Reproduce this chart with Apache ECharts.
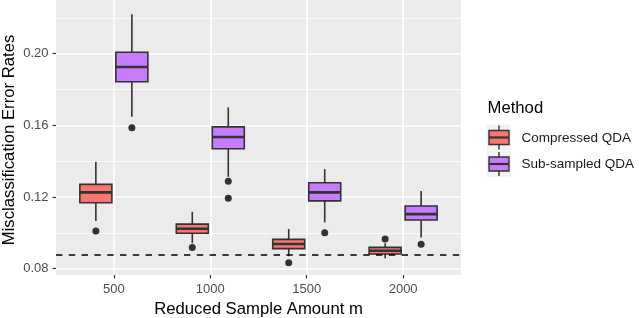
<!DOCTYPE html>
<html><head><meta charset="utf-8">
<script src="https://cdn.jsdelivr.net/npm/echarts@6/dist/echarts.min.js"></script>
<style>html,body{margin:0;padding:0;background:#fff}#c{width:640px;height:318px}</style>
</head><body><div id="c"></div>
<script>
// ---- data ----
const sampleSizes = [500, 1000, 1500, 2000];
const methods = ['Compressed QDA', 'Sub-sampled QDA'];
// [lower whisker, Q1, median, Q3, upper whisker]
const compressedStats = [
  [0.1066, 0.1168, 0.1226, 0.1271, 0.1397],
  [0.0942, 0.0998, 0.1023, 0.1049, 0.1118],
  [0.0870, 0.0912, 0.0938, 0.0964, 0.1022],
  [0.0858, 0.0882, 0.0900, 0.0919, 0.0942]
];
const compressedOutliers = [[500, 0.1010], [1000, 0.0919], [1500, 0.0833], [2000, 0.0966]];
const subsampledStats = [
  [0.1648, 0.1844, 0.1926, 0.2008, 0.2221],
  [0.1313, 0.1470, 0.1535, 0.1592, 0.1701],
  [0.1059, 0.1179, 0.1226, 0.1280, 0.1356],
  [0.0975, 0.1072, 0.1105, 0.1150, 0.1234]
];
const subsampledOutliers = [[500, 0.1587], [1000, 0.1288], [1000, 0.1193], [1500, 0.1001], [2000, 0.0936]];
const referenceRate = 0.088;
const yMajorTicks = [0.08, 0.12, 0.16, 0.20];
const yMinorTicks = [0.10, 0.14, 0.18, 0.22];
const xTicks = [500, 1000, 1500, 2000];
const xTitle = 'Reduced Sample Amount m';
const yTitle = 'Misclassification Error Rates';
const legendTitle = 'Method';

// ---- drawing ----
const FONT = '"Liberation Sans", Arial, Helvetica, sans-serif';
const DARK = '#333333';
const COLORS = ['#F8766D', '#C77CFF'];
const chart = echarts.init(document.getElementById('c'), null, {renderer: 'canvas'});

function boxRenderer(offsetPx, fill) {
  return function (params, api) {
    const x = api.value(0);
    const lo = api.coord([x, api.value(1)]);
    const q1 = api.coord([x, api.value(2)]);
    const md = api.coord([x, api.value(3)]);
    const q3 = api.coord([x, api.value(4)]);
    const hi = api.coord([x, api.value(5)]);
    const cx = lo[0] + offsetPx;
    const hw = 16;
    const ls = {stroke: DARK, lineWidth: 1.6};
    return {type: 'group', children: [
      {type: 'line', shape: {x1: cx, y1: hi[1], x2: cx, y2: q3[1]}, style: ls},
      {type: 'line', shape: {x1: cx, y1: q1[1], x2: cx, y2: lo[1]}, style: ls},
      {type: 'rect', shape: {x: cx - hw, y: q3[1], width: 2 * hw, height: q1[1] - q3[1]},
        style: {fill: fill, stroke: DARK, lineWidth: 1.6}},
      {type: 'line', shape: {x1: cx - hw, y1: md[1], x2: cx + hw, y2: md[1]}, style: {stroke: DARK, lineWidth: 2.6}}
    ]};
  };
}

const gridLine = (w) => ({color: '#ffffff', width: w, type: 'solid'});
const gridMarks = []
  .concat(yMinorTicks.map(v => ({yAxis: v, lineStyle: gridLine(0.8)})))
  .concat(yMajorTicks.map(v => ({yAxis: v, lineStyle: gridLine(1.6)})))
  .concat(xTicks.map(v => ({xAxis: v, lineStyle: gridLine(1.6)})));

// legend drawn as graphic (ggplot-style box keys)
function legendKey(y0, fill, label) {
  const x0 = 487, w = 24, h = 26, cx = x0 + w / 2;
  return [
    {type: 'rect', shape: {x: x0, y: y0, width: w, height: h}, style: {fill: '#f2f2f2'}, z: 10},
    {type: 'line', shape: {x1: cx, y1: y0 + 1, x2: cx, y2: y0 + h - 1}, style: {stroke: DARK, lineWidth: 1.4}, z: 11},
    {type: 'rect', shape: {x: x0 + 2, y: y0 + 6, width: w - 4, height: h - 12}, style: {fill: fill, stroke: DARK, lineWidth: 1.4}, z: 12},
    {type: 'line', shape: {x1: x0 + 2, y1: y0 + h / 2, x2: x0 + w - 2, y2: y0 + h / 2}, style: {stroke: DARK, lineWidth: 2.2}, z: 13},
    {type: 'text', x: 521.5, y: y0 + h / 2 + 0.5, style: {text: label, fill: '#1a1a1a', font: '13.5px ' + FONT, textVerticalAlign: 'middle', textAlign: 'left'}, z: 13}
  ];
}

const option = {
  animation: false,
  backgroundColor: '#ffffff',
  grid: {left: 56, top: 0, width: 405, height: 275, show: true, backgroundColor: '#ebebeb', borderWidth: 0, containLabel: false, outerBoundsMode: 'none'},
  xAxis: {
    type: 'value', min: 200, max: 2300,
    axisLine: {show: false},
    axisTick: {show: true, customValues: xTicks, length: 3.5, lineStyle: {color: DARK, width: 1.2}},
    axisLabel: {customValues: xTicks, color: '#4d4d4d', fontSize: 13, fontFamily: FONT, margin: 8,
      formatter: v => String(v)},
    splitLine: {show: false},
    name: xTitle, nameLocation: 'middle', nameGap: 23,
    nameTextStyle: {color: '#000', fontSize: 16.7, fontFamily: FONT}
  },
  yAxis: {
    type: 'value', min: 0.0765, max: 0.23,
    axisLine: {show: false},
    axisTick: {show: true, customValues: yMajorTicks, length: 3.5, lineStyle: {color: DARK, width: 1.2}},
    axisLabel: {customValues: yMajorTicks, color: '#4d4d4d', fontSize: 13, fontFamily: FONT, margin: 7.5,
      formatter: v => v.toFixed(2)},
    splitLine: {show: false}
  },
  series: [
    {type: 'line', data: [], silent: true,
      markLine: {silent: true, precision: 6, symbol: ['none', 'none'], label: {show: false}, z: 1, animation: false, data: gridMarks}},
    {type: 'custom', name: methods[0], z: 3, silent: true,
      data: sampleSizes.map((s, i) => [s].concat(compressedStats[i])),
      encode: {x: 0, y: [1, 2, 3, 4, 5]},
      renderItem: boxRenderer(-18, COLORS[0])},
    {type: 'custom', name: methods[1], z: 3, silent: true,
      data: sampleSizes.map((s, i) => [s].concat(subsampledStats[i])),
      encode: {x: 0, y: [1, 2, 3, 4, 5]},
      renderItem: boxRenderer(18, COLORS[1])},
    {type: 'scatter', z: 4, silent: true, data: compressedOutliers, symbol: 'circle', symbolSize: 7,
      symbolOffset: [-18, 0], itemStyle: {color: DARK, opacity: 1},
      markLine: {silent: true, precision: 6, symbol: ['none', 'none'], label: {show: false}, z: 6, animation: false,
        data: [{yAxis: referenceRate, lineStyle: {color: '#000', width: 1.6, type: [6.4, 6.4]}}]}},
    {type: 'scatter', z: 4, silent: true, data: subsampledOutliers, symbol: 'circle', symbolSize: 7,
      symbolOffset: [18, 0], itemStyle: {color: DARK, opacity: 1}}
  ],
  graphic: [
    {type: 'text', x: 9.5, y: 140, rotation: Math.PI / 2,
      style: {text: yTitle, fill: '#000', font: '16.7px ' + FONT, textVerticalAlign: 'middle', textAlign: 'center'}, z: 10},
    {type: 'text', x: 487.5, y: 108, style: {text: legendTitle, fill: '#000', font: '16.7px ' + FONT, textVerticalAlign: 'middle', textAlign: 'left'}, z: 10}
  ].concat(legendKey(124.5, COLORS[0], methods[0])).concat(legendKey(151, COLORS[1], methods[1]))
};
chart.setOption(option);
</script>
</body></html>
